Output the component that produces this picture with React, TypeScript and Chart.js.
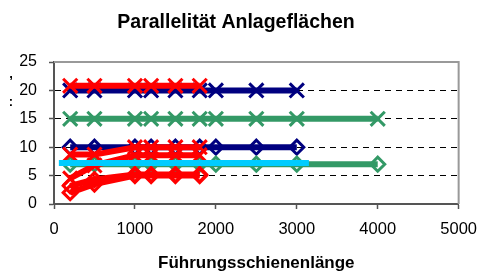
import React, { useEffect, useRef } from "react";
import { Chart, registerables } from "chart.js";

Chart.register(...registerables);

const titleText = "Parallelität Anlageflächen";
const xTitleText = "Führungsschienenlänge";

const xRed = [200, 500, 1000, 1200, 1500, 1800];
const xNavy = [200, 500, 1000, 1200, 1500, 1800, 2000, 2500, 3000];
const xGreen = [200, 500, 1000, 1200, 1500, 1800, 2000, 2500, 3000, 4000];
const xCyan = [60, 3150];

const redXTop = [20.8, 20.8, 20.8, 20.8, 20.8, 20.8];
const redXUpper = [8.7, 8.7, 10, 10, 10, 10];
const redXLower = [4.5, 6.8, 8.6, 8.6, 8.6, 8.6];
const redDiaA = [2.0, 3.5, 5, 5, 5, 5];
const redDiaB = [3.2, 4.3, 5.2, 5.2, 5.2, 5.2];
const navyX = [20, 20, 20, 20, 20, 20, 20, 20, 20];
const navyDia = [10, 10, 10, 10, 10, 10, 10, 10, 10];
const greenX = [15, 15, 15, 15, 15, 15, 15, 15, 15, 15];
const greenDia = [7, 7, 7, 7, 7, 7, 7, 7, 7, 7];
const cyanLine = [7.2, 7.2];

const xTicks = [0, 1000, 2000, 3000, 4000, 5000];
const yTicks = [0, 5, 10, 15, 20, 25];

const NAVY = "#000080";
const RED = "#ff0000";
const GREEN = "#339966";
const CYAN = "#00ccff";
const FONT = "'Liberation Sans', Arial, sans-serif";

const pts = (xs: number[], ys: number[]) => xs.map((x, i) => ({ x, y: ys[i] }));

const series = (
  xs: number[],
  ys: number[],
  color: string,
  marker: string | false,
  order: number
) => ({
  data: pts(xs, ys),
  borderColor: color,
  backgroundColor: "transparent",
  borderWidth: 6,
  tension: 0,
  order,
  pointStyle: marker || "circle",
  pointRadius: marker === false ? 0 : marker === "crossRot" ? 10 : 7,
  pointBorderWidth: 3,
  pointBorderColor: color,
  pointBackgroundColor: "transparent",
});

const textPlugin = {
  id: "texts",
  beforeDatasetsDraw(chart: any) {
    const { ctx, chartArea } = chart;
    ctx.save();
    ctx.strokeStyle = "#999999";
    ctx.lineWidth = 2;
    ctx.beginPath();
    ctx.moveTo(chartArea.left, chartArea.top);
    ctx.lineTo(chartArea.right, chartArea.top);
    ctx.lineTo(chartArea.right, chartArea.bottom);
    ctx.stroke();
    ctx.restore();
  },
  afterDraw(chart: any) {
    const { ctx, chartArea } = chart;
    ctx.save();
    ctx.fillStyle = "#000";
    ctx.textAlign = "center";
    ctx.textBaseline = "middle";
    ctx.font = `bold 19.5px ${FONT}`;
    ctx.fillText(titleText, 236, 23);
    ctx.font = `bold 17px ${FONT}`;
    ctx.fillText(xTitleText, (chartArea.left + chartArea.right) / 2, 263);
    ctx.font = `bold 13px ${FONT}`;
    ctx.fillText(",", 11, 74);
    ctx.fillText(":", 11, 102);
    ctx.restore();
  },
};

export default function App() {
  const ref = useRef<HTMLCanvasElement | null>(null);
  useEffect(() => {
    if (!ref.current) return;
    const chart = new Chart(ref.current, {
      type: "line",
      data: {
        datasets: [
          series(xCyan, cyanLine, CYAN, false, 0),
          series(xRed, redXTop, RED, "crossRot", 1),
          series(xRed, redXUpper, RED, "crossRot", 1),
          series(xRed, redXLower, RED, "crossRot", 1),
          series(xRed, redDiaA, RED, "rectRot", 1),
          series(xRed, redDiaB, RED, "rectRot", 1),
          series(xGreen, greenX, GREEN, "crossRot", 2),
          series(xGreen, greenDia, GREEN, "rectRot", 2),
          series(xNavy, navyX, NAVY, "crossRot", 3),
          series(xNavy, navyDia, NAVY, "rectRot", 3),
        ] as any,
      },
      options: {
        animation: false,
        responsive: false,
        layout: { padding: { top: 62, right: 20, left: 0, bottom: 0 } },
        plugins: {
          legend: { display: false },
          title: { display: false },
          tooltip: { enabled: false },
        },
        scales: {
          x: {
            type: "linear",
            min: 0,
            max: 5000,
            afterBuildTicks: (s: any) => {
              s.ticks = xTicks.map((v) => ({ value: v }));
            },
            afterFit: (s: any) => {
              s.height = 72;
            },
            ticks: {
              padding: 11,
              color: "#000",
              font: { family: FONT, size: 16.5 },
              maxRotation: 0,
              callback: (v: any) => String(v),
            },
            grid: {
              drawOnChartArea: false,
              drawTicks: true,
              tickLength: 5,
              tickColor: "#555",
              tickWidth: 1.5,
            },
            border: { color: "#555", width: 2 },
          },
          y: {
            type: "linear",
            min: 0,
            max: 25,
            afterBuildTicks: (s: any) => {
              s.ticks = yTicks.map((v) => ({ value: v }));
            },
            afterFit: (s: any) => {
              s.width = 54;
            },
            ticks: {
              padding: 12,
              color: "#000",
              font: { family: FONT, size: 16 },
              callback: (v: any) => String(v),
            },
            grid: {
              color: (c: any) =>
                c.tick && c.tick.value > 0 && c.tick.value < 25 ? "#000" : "transparent",
              lineWidth: 1,
              drawTicks: true,
              tickLength: 5,
              tickColor: "#555",
              tickWidth: 1.5,
              tickBorderDash: [],
            },
            border: { color: "#555", width: 2, dash: [6, 5] },
          },
        },
      } as any,
      plugins: [textPlugin],
    });
    return () => chart.destroy();
  }, []);
  return (
    <div style={{ position: "absolute", left: 0, top: 0, width: 488, height: 276, background: "#fff" }}>
      <canvas ref={ref} width={488} height={276} style={{ display: "block" }} />
    </div>
  );
}
